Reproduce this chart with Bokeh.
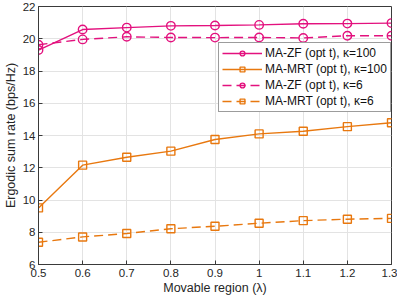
from bokeh.plotting import figure
from bokeh.models import FixedTicker, Legend, LegendItem, Range1d
from bokeh.embed import file_html
from bokeh.resources import INLINE

lam = [0.5, 0.6, 0.7, 0.8, 0.9, 1.0, 1.1, 1.2, 1.3]
zf_k100 = [19.30, 20.57, 20.69, 20.80, 20.82, 20.86, 20.93, 20.94, 20.97]
mrt_k100 = [9.51, 12.16, 12.65, 13.03, 13.75, 14.10, 14.26, 14.55, 14.79]
zf_k6 = [19.63, 19.96, 20.12, 20.08, 20.07, 20.08, 20.05, 20.19, 20.19]
mrt_k6 = [7.38, 7.71, 7.92, 8.22, 8.37, 8.56, 8.72, 8.81, 8.86]

xticks = [0.5, 0.6, 0.7, 0.8, 0.9, 1.0, 1.1, 1.2, 1.3]
xtick_labels = ["0.5", "0.6", "0.7", "0.8", "0.9", "1", "1.1", "1.2", "1.3"]
yticks = [6, 8, 10, 12, 14, 16, 18, 20, 22]

MAG = "#E3117E"
ORA = "#E8780F"
FONT = "Liberation Sans"
AX = "#3a3a3a"

p = figure(width=397, height=297, output_backend="svg", toolbar_location=None,
           x_range=Range1d(0.5, 1.3), y_range=Range1d(6, 22),
           min_border_left=36, min_border_right=6, min_border_top=6, min_border_bottom=0)
p.background_fill_color = "white"
p.border_fill_color = "white"
p.outline_line_color = AX
p.outline_line_width = 1

for ax in (p.xaxis[0], p.yaxis[0]):
    ax.axis_line_color = AX
    ax.major_tick_line_color = AX
    ax.major_tick_in = 4
    ax.major_tick_out = 0
    ax.minor_tick_line_color = None
    ax.major_label_text_font = FONT
    ax.major_label_text_font_size = "11.5px"
    ax.major_label_text_color = "#262626"
    ax.axis_label_text_font = FONT
    ax.axis_label_text_font_size = "12.5px"
    ax.axis_label_text_font_style = "normal"
    ax.axis_label_text_color = "#262626"

p.xaxis.ticker = FixedTicker(ticks=xticks)
p.xaxis.major_label_overrides = {t: l for t, l in zip(xticks, xtick_labels)}
p.yaxis.ticker = FixedTicker(ticks=yticks)
p.xaxis.axis_label = "Movable region (λ)"
p.yaxis.axis_label = "Ergodic sum rate (bps/Hz)"
p.xaxis.major_label_standoff = 4
p.yaxis.major_label_standoff = 3
p.xaxis.axis_label_standoff = 1
p.yaxis.axis_label_standoff = 2

p.xgrid.grid_line_color = "#e3e3e3"
p.ygrid.grid_line_color = "#e3e3e3"
p.xgrid.ticker = FixedTicker(ticks=xticks)
p.ygrid.ticker = FixedTicker(ticks=yticks)

series = [
    (zf_k100, MAG, "solid", "circle", "MA-ZF (opt t), κ=100"),
    (mrt_k100, ORA, "solid", "square", "MA-MRT (opt t), κ=100"),
    (zf_k6, MAG, "9 5", "circle", "MA-ZF (opt t), κ=6"),
    (mrt_k6, ORA, "9 5", "square", "MA-MRT (opt t), κ=6"),
]
items = []
for ys, col, dash, mk, lab in series:
    r1 = p.line(lam, ys, line_color=col, line_width=1.4, line_dash=dash)
    if mk == "circle":
        r2 = p.scatter(lam, ys, marker="circle", size=8.5, fill_color=None,
                       line_color=col, line_width=1.4)
    else:
        r2 = p.scatter(lam, ys, marker="square", size=8, fill_color=None,
                       line_color=col, line_width=1.4)
    items.append(LegendItem(label=lab, renderers=[r1, r2]))

leg = Legend(items=items, location="top_right")
leg.label_text_font = FONT
leg.label_text_font_size = "12px"
leg.label_text_color = "#111111"
leg.glyph_width = 40
leg.glyph_height = 12
leg.label_height = 12
leg.spacing = 2
leg.padding = 3
leg.margin = 0
leg.label_standoff = 3
leg.border_line_color = AX
leg.border_line_width = 1
leg.background_fill_color = "white"
leg.background_fill_alpha = 1
leg.location = (180, 152)
p.add_layout(leg, "center")

open("out.html", "w").write(file_html(p, INLINE))
